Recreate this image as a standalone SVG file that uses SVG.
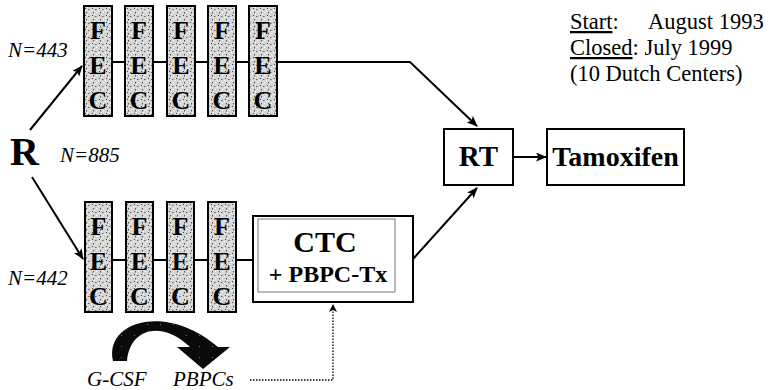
<svg xmlns="http://www.w3.org/2000/svg" width="773" height="390" viewBox="0 0 773 390" font-family="'Liberation Serif', 'Times New Roman', 'DejaVu Serif', serif">
<defs>
<pattern id="stip" width="7" height="7" patternUnits="userSpaceOnUse">
<rect width="7" height="7" fill="#d6d6d6"/>
<rect x="1" y="1" width="1" height="1" fill="#444"/>
<rect x="4" y="2" width="1.5" height="1" fill="#666"/>
<rect x="2" y="5" width="1" height="1.5" fill="#555"/>
<rect x="5" y="5" width="1" height="1" fill="#fff"/>
<rect x="0" y="3" width="1" height="1" fill="#fff"/>
<rect x="3" y="0" width="1" height="1" fill="#fff"/>
</pattern>
<pattern id="spk" width="13" height="11" patternUnits="userSpaceOnUse">
<rect width="13" height="11" fill="#0a0a0a"/>
<rect x="4" y="5" width="1" height="1" fill="#777"/>
</pattern>
<marker id="ah" markerUnits="userSpaceOnUse" markerWidth="11" markerHeight="9" refX="10" refY="4.5" orient="auto">
<path d="M0,0 L11,4.5 L0,9 L2.5,4.5 Z" fill="#000"/>
</marker>
<marker id="ahs" markerUnits="userSpaceOnUse" markerWidth="8" markerHeight="8" refX="7" refY="4" orient="auto">
<path d="M0,0 L8,4 L0,8 L2,4 Z" fill="#000"/>
</marker>
</defs>
<style>
text{font-family:'Liberation Serif','Times New Roman','DejaVu Serif',serif}
.cyc{fill:url(#stip);stroke:#000;stroke-width:2}
.let{font-weight:bold;font-size:26px;text-anchor:middle;fill:#000}
.ln{stroke:#000;stroke-width:2;fill:none}
.it{font-style:italic;font-size:21px;fill:#000}
.box{fill:#fff;stroke:#000;stroke-width:2}
.bt{font-weight:bold;fill:#000;text-anchor:middle}
.info{font-size:22.5px;fill:#000}
</style>

<g id="connectors">
<path class="ln" d="M84,62 H410 L477,126" marker-end="url(#ah)"/>
<path class="ln" d="M112,260 H253"/>
<path class="ln" d="M30,130 L82,66" marker-end="url(#ah)"/>
<path class="ln" d="M32,177 L83,259" marker-end="url(#ah)"/>
<path class="ln" d="M413,259 L477,188" marker-end="url(#ah)"/>
<path class="ln" d="M513,157 H546" marker-end="url(#ah)"/>
<path d="M250,380 H333 V305" fill="none" stroke="#000" stroke-width="1.3" stroke-dasharray="1.5,1.5" marker-end="url(#ahs)"/>
</g>

<g id="R"><text x="10" y="165" font-weight="bold" font-size="40">R</text></g>
<g id="n885"><text class="it" x="60" y="162">N=885</text></g>
<g id="n443"><text class="it" x="8" y="57">N=443</text></g>
<g id="n442"><text class="it" x="8" y="285">N=442</text></g>

<g id="arm1">
<g id="fec1"><rect class="cyc" x="84" y="6" width="28" height="110"/><text class="let" x="98" y="39">F</text><text class="let" x="98" y="74">E</text><text class="let" x="98" y="109">C</text></g>
<g id="fec2"><rect class="cyc" x="125" y="6" width="28" height="110"/><text class="let" x="139" y="39">F</text><text class="let" x="139" y="74">E</text><text class="let" x="139" y="109">C</text></g>
<g id="fec3"><rect class="cyc" x="167" y="6" width="28" height="110"/><text class="let" x="181" y="39">F</text><text class="let" x="181" y="74">E</text><text class="let" x="181" y="109">C</text></g>
<g id="fec4"><rect class="cyc" x="208" y="6" width="28" height="110"/><text class="let" x="222" y="39">F</text><text class="let" x="222" y="74">E</text><text class="let" x="222" y="109">C</text></g>
<g id="fec5"><rect class="cyc" x="249" y="6" width="28" height="110"/><text class="let" x="263" y="39">F</text><text class="let" x="263" y="74">E</text><text class="let" x="263" y="109">C</text></g>
</g>

<g id="arm2">
<g id="fec6"><rect class="cyc" x="85" y="202" width="27" height="110"/><text class="let" x="98.5" y="235">F</text><text class="let" x="98.5" y="270">E</text><text class="let" x="98.5" y="305">C</text></g>
<g id="fec7"><rect class="cyc" x="126" y="202" width="27" height="110"/><text class="let" x="139.5" y="235">F</text><text class="let" x="139.5" y="270">E</text><text class="let" x="139.5" y="305">C</text></g>
<g id="fec8"><rect class="cyc" x="167" y="202" width="27" height="110"/><text class="let" x="180.5" y="235">F</text><text class="let" x="180.5" y="270">E</text><text class="let" x="180.5" y="305">C</text></g>
<g id="fec9"><rect class="cyc" x="208" y="202" width="28" height="110"/><text class="let" x="222" y="235">F</text><text class="let" x="222" y="270">E</text><text class="let" x="222" y="305">C</text></g>
</g>

<g id="ctc">
<rect class="box" x="253" y="216" width="160" height="86"/>
<rect x="258" y="219" width="137" height="73" fill="none" stroke="#777" stroke-width="1"/>
<text class="bt" x="325" y="252" font-size="30">CTC</text>
<text class="bt" x="328" y="282" font-size="24">+ PBPC-Tx</text>
</g>

<g id="rt">
<rect class="box" x="444" y="129" width="69" height="56"/>
<text class="bt" x="478.5" y="166" font-size="29">RT</text>
</g>

<g id="tamoxifen">
<rect class="box" x="547" y="129" width="137" height="56"/>
<text class="bt" x="615.5" y="166" font-size="28">Tamoxifen</text>
</g>

<g id="gcsf">
<path d="M113,361 C104,322 165,302 218,347 L230,347 L203,369 L177,347 L190,347 C162,320 130,328 127,361 Z" fill="url(#spk)"/>
<text class="it" x="87" y="386" font-size="22.5">G-CSF</text>
<text class="it" x="173" y="386" font-size="22.5">PBPCs</text>
</g>

<g id="info">
<text class="info" x="570" y="29"><tspan text-decoration="underline">Start</tspan>:</text>
<text class="info" x="648" y="29">August 1993</text>
<text class="info" x="570" y="55"><tspan text-decoration="underline">Closed</tspan>: July 1999</text>
<text class="info" x="570" y="81">(10 Dutch Centers)</text>
</g>
</svg>
